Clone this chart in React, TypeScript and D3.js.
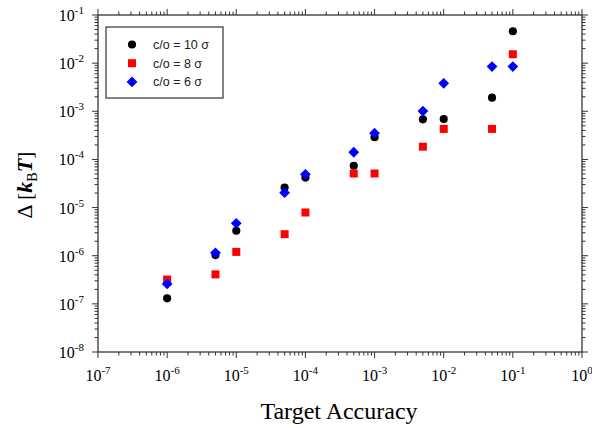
import * as d3 from "d3";

const accuracy = [1e-6, 5e-6, 1e-5, 5e-5, 1e-4, 5e-4, 1e-3, 5e-3, 1e-2, 5e-2, 1e-1];
const delta10 = [1.3e-7, 1.03e-6, 3.3e-6, 2.6e-5, 4.2e-5, 7.4e-5, 2.9e-4, 6.8e-4, 6.9e-4, 1.92e-3, 4.6e-2];
const delta8 = [3.2e-7, 4.1e-7, 1.2e-6, 2.8e-6, 7.9e-6, 5.1e-5, 5.1e-5, 1.84e-4, 4.3e-4, 4.3e-4, 1.53e-2];
const delta6 = [2.6e-7, 1.15e-6, 4.7e-6, 2.04e-5, 4.9e-5, 1.41e-4, 3.5e-4, 1.01e-3, 3.8e-3, 8.5e-3, 8.5e-3];
const seriesNames = ["c/o = 10 σ", "c/o = 8 σ", "c/o = 6 σ"];
const xExps = [-7, -6, -5, -4, -3, -2, -1, 0];
const yExps = [-8, -7, -6, -5, -4, -3, -2, -1];

const W = 592;
const H = 428;
const m = { left: 98, top: 15, right: 582, bottom: 352 };

export default function App() {
  const x = d3.scaleLog().domain([1e-7, 1]).range([m.left, m.right]);
  const y = d3.scaleLog().domain([1e-8, 1e-1]).range([m.bottom, m.top]);

  const circle = d3.symbol().type(d3.symbolCircle).size(52)() ?? "";
  const square = d3.symbol().type(d3.symbolSquare).size(64)() ?? "";
  const diamond = d3.symbol().type(d3.symbolSquare).size(58)() ?? "";

  const series = [
    { values: delta10, path: circle, color: "#000000", rot: 0 },
    { values: delta8, path: square, color: "#ff0000", rot: 0 },
    { values: delta6, path: diamond, color: "#0000ff", rot: 45 },
  ];

  // minor + major ticks for each decade
  const xTicks: { v: number; major: boolean }[] = [];
  for (let e = -7; e < 0; e++) {
    for (let k = 1; k < 10; k++) xTicks.push({ v: k * Math.pow(10, e), major: k === 1 });
  }
  xTicks.push({ v: 1, major: true });
  const yTicks: { v: number; major: boolean }[] = [];
  for (let e = -8; e < -1; e++) {
    for (let k = 1; k < 10; k++) yTicks.push({ v: k * Math.pow(10, e), major: k === 1 });
  }
  yTicks.push({ v: 0.1, major: true });

  const serif = "'Liberation Serif', 'Times New Roman', serif";
  const sans = "'Liberation Sans', Arial, sans-serif";

  return (
    <svg width={W} height={H} style={{ position: "absolute", left: 0, top: 0, background: "#fff" }}>
      <rect x={m.left} y={m.top} width={m.right - m.left} height={m.bottom - m.top} fill="none" stroke="#333" strokeWidth={1.3} />

      {xTicks.map((t, i) => {
        const px = x(t.v);
        const len = t.major ? 6 : 3.5;
        return (
          <g key={"xt" + i} stroke="#333" strokeWidth={1}>
            <line x1={px} x2={px} y1={m.bottom} y2={m.bottom + len} />
            <line x1={px} x2={px} y1={m.top} y2={m.top - len} />
          </g>
        );
      })}
      {yTicks.map((t, i) => {
        const py = y(t.v);
        const len = t.major ? 6 : 3.5;
        return (
          <g key={"yt" + i} stroke="#333" strokeWidth={1}>
            <line x1={m.left} x2={m.left - len} y1={py} y2={py} />
            <line x1={m.right} x2={m.right + len} y1={py} y2={py} />
          </g>
        );
      })}

      {xExps.map((e) => (
        <text key={"xl" + e} x={x(Math.pow(10, e))} y={381} textAnchor="middle" fontFamily={serif} fontSize={16} fill="#000">
          10<tspan fontSize={11} dy={-7}>{e}</tspan>
        </text>
      ))}
      {yExps.map((e) => (
        <text key={"yl" + e} x={84} y={y(Math.pow(10, e)) + 6} textAnchor="end" fontFamily={serif} fontSize={16} fill="#000">
          10<tspan fontSize={11} dy={-7}>{e}</tspan>
        </text>
      ))}

      <text x={339} y={419} textAnchor="middle" fontFamily={serif} fontSize={24} fill="#000">
        Target Accuracy
      </text>
      <text transform="translate(32,185) rotate(-90)" textAnchor="middle" fontFamily={serif} fontSize={22} fill="#000">
        Δ [<tspan fontStyle="italic" fontWeight="bold">k</tspan>
        <tspan fontSize={14} dy={5}>B</tspan>
        <tspan dy={-5} fontStyle="italic" fontWeight="bold">T</tspan>]
      </text>

      {series.map((s, si) => (
        <g key={"s" + si} fill={s.color}>
          {s.values.map((v, i) => (
            <path key={i} d={s.path} transform={`translate(${x(accuracy[i])},${y(v)}) rotate(${s.rot})`} />
          ))}
        </g>
      ))}

      <rect x={106} y={27} width={117} height={71} fill="#fff" stroke="#333" strokeWidth={1.2} />
      {series.map((s, si) => {
        const ly = 44.5 + si * 18.7;
        return (
          <g key={"lg" + si}>
            <path d={s.path} fill={s.color} transform={`translate(132,${ly}) rotate(${s.rot})`} />
            <text x={153} y={ly + 4.5} fontFamily={sans} fontSize={12.5} fill="#222">
              {seriesNames[si]}
            </text>
          </g>
        );
      })}
    </svg>
  );
}
